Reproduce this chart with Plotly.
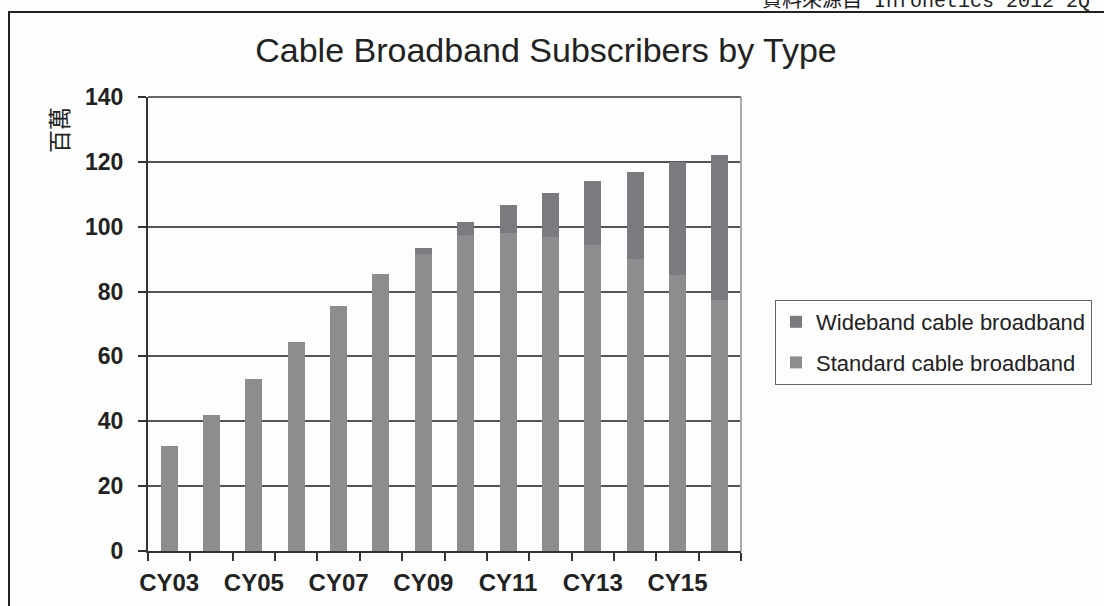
import plotly.graph_objects as go

# Calendar years shown on the x axis
years = ["CY03", "CY04", "CY05", "CY06", "CY07", "CY08", "CY09",
         "CY10", "CY11", "CY12", "CY13", "CY14", "CY15", "CY16"]

# Subscribers in millions
standard = [32.5, 42, 53, 64.5, 75.5, 85.5, 91.7, 97.6, 98.1, 96.8, 94.3, 90, 85, 77.3]
wideband = [0, 0, 0, 0, 0, 0, 1.6, 4.0, 8.7, 13.5, 19.7, 27.0, 35.0, 44.7]

y_ticks = [0, 20, 40, 60, 80, 100, 120, 140]

# layout geometry in pixels
W, H = 1104, 606
L, R, T, B = 148, 741, 97, 551
pw, ph = R - L, B - T


def px_x(v):
    return (v - L) / pw


def px_y(v):
    return (B - v) / ph


idx = list(range(len(years)))

fig = go.Figure()
fig.add_trace(go.Bar(
    x=idx, y=standard, name="Standard cable broadband",
    legendgroup="std", legendrank=2,
    marker=dict(color="#8d8d90", line=dict(width=0)),
))
fig.add_trace(go.Bar(
    x=idx, y=wideband, name="Wideband cable broadband",
    legendgroup="wide", legendrank=1,
    marker=dict(color="#7b7b7f", line=dict(width=0)),
))

fig.update_layout(
    width=W, height=H,
    barmode="stack", bargap=0.6,
    paper_bgcolor="#fdfdfd", plot_bgcolor="#fdfdfd",
    margin=dict(l=L, r=W - R, t=T, b=H - B, autoexpand=False),
    font=dict(family="Liberation Sans, Arial", color="#222"),
    title=dict(text="Cable Broadband Subscribers by Type",
               x=546 / W, xref="container", xanchor="center",
               y=1 - 50 / H, yref="container", yanchor="middle",
               font=dict(size=34, color="#222")),
    legend=dict(
        x=px_x(775), y=px_y(300), xanchor="left", yanchor="top",
        traceorder="grouped", bordercolor="#666", borderwidth=1,
        tracegroupgap=9, itemwidth=30,
        bgcolor="#fdfdfd", font=dict(size=22, color="#222"),
    ),
    showlegend=True,
)

fig.update_xaxes(
    range=[-0.5, len(years) - 0.5], automargin=False,
    tickvals=idx[::2], ticktext=years[::2],
    ticks="", showgrid=False,
    showline=True, linecolor="#333", linewidth=2,
    tickfont=dict(size=24, weight="bold", color="#222"),
    ticklabelstandoff=9,
    minor=dict(tick0=-0.5, dtick=1, ticks="outside", ticklen=8,
               tickcolor="#333", tickwidth=1.5, showgrid=False),
)
fig.update_yaxes(
    range=[0, 140], tickvals=y_ticks, automargin=False,
    showgrid=True, gridcolor="#555", gridwidth=2,
    showline=True, linecolor="#333", linewidth=2,
    ticks="outside", ticklen=8, tickcolor="#333", tickwidth=1.5,
    tickfont=dict(size=23, weight="bold", color="#222"),
    ticklabelstandoff=10, zeroline=False,
)

# plot-area border on top and right, outer frame
fig.update_layout(shapes=[
    dict(type="line", xref="paper", yref="paper", x0=0, x1=1, y0=1, y1=1,
         line=dict(color="#666", width=2), layer="above"),
    dict(type="line", xref="paper", yref="paper", x0=1, x1=1, y0=0, y1=1,
         line=dict(color="#aaa", width=2), layer="above"),
    dict(type="rect", xref="paper", yref="paper",
         x0=px_x(9), x1=px_x(1115), y0=px_y(620), y1=px_y(12),
         line=dict(color="#222", width=2)),
])
# y axis unit label
fig.add_annotation(
    text="百萬", xref="paper", yref="paper", x=px_x(58), y=px_y(130),
    xanchor="center", yanchor="middle",
    textangle=-90, showarrow=False, font=dict(size=23, color="#222",
                                              family="Noto Sans CJK TC"),
)
# source note, partly cut off at the top like the original scan
fig.add_annotation(
    text="資料來源自 Infonetics 2012 2Q", xref="paper", yref="paper",
    x=px_x(1092), y=px_y(15), xanchor="right", yanchor="bottom",
    showarrow=False, font=dict(size=20, color="#222",
                               family="Liberation Mono, Noto Sans CJK TC"),
)

# drop the default page margin so the figure sits at the window corner
fig.write_html("out.html", config={"displayModeBar": False},
               post_script="document.body.style.margin='0';")
